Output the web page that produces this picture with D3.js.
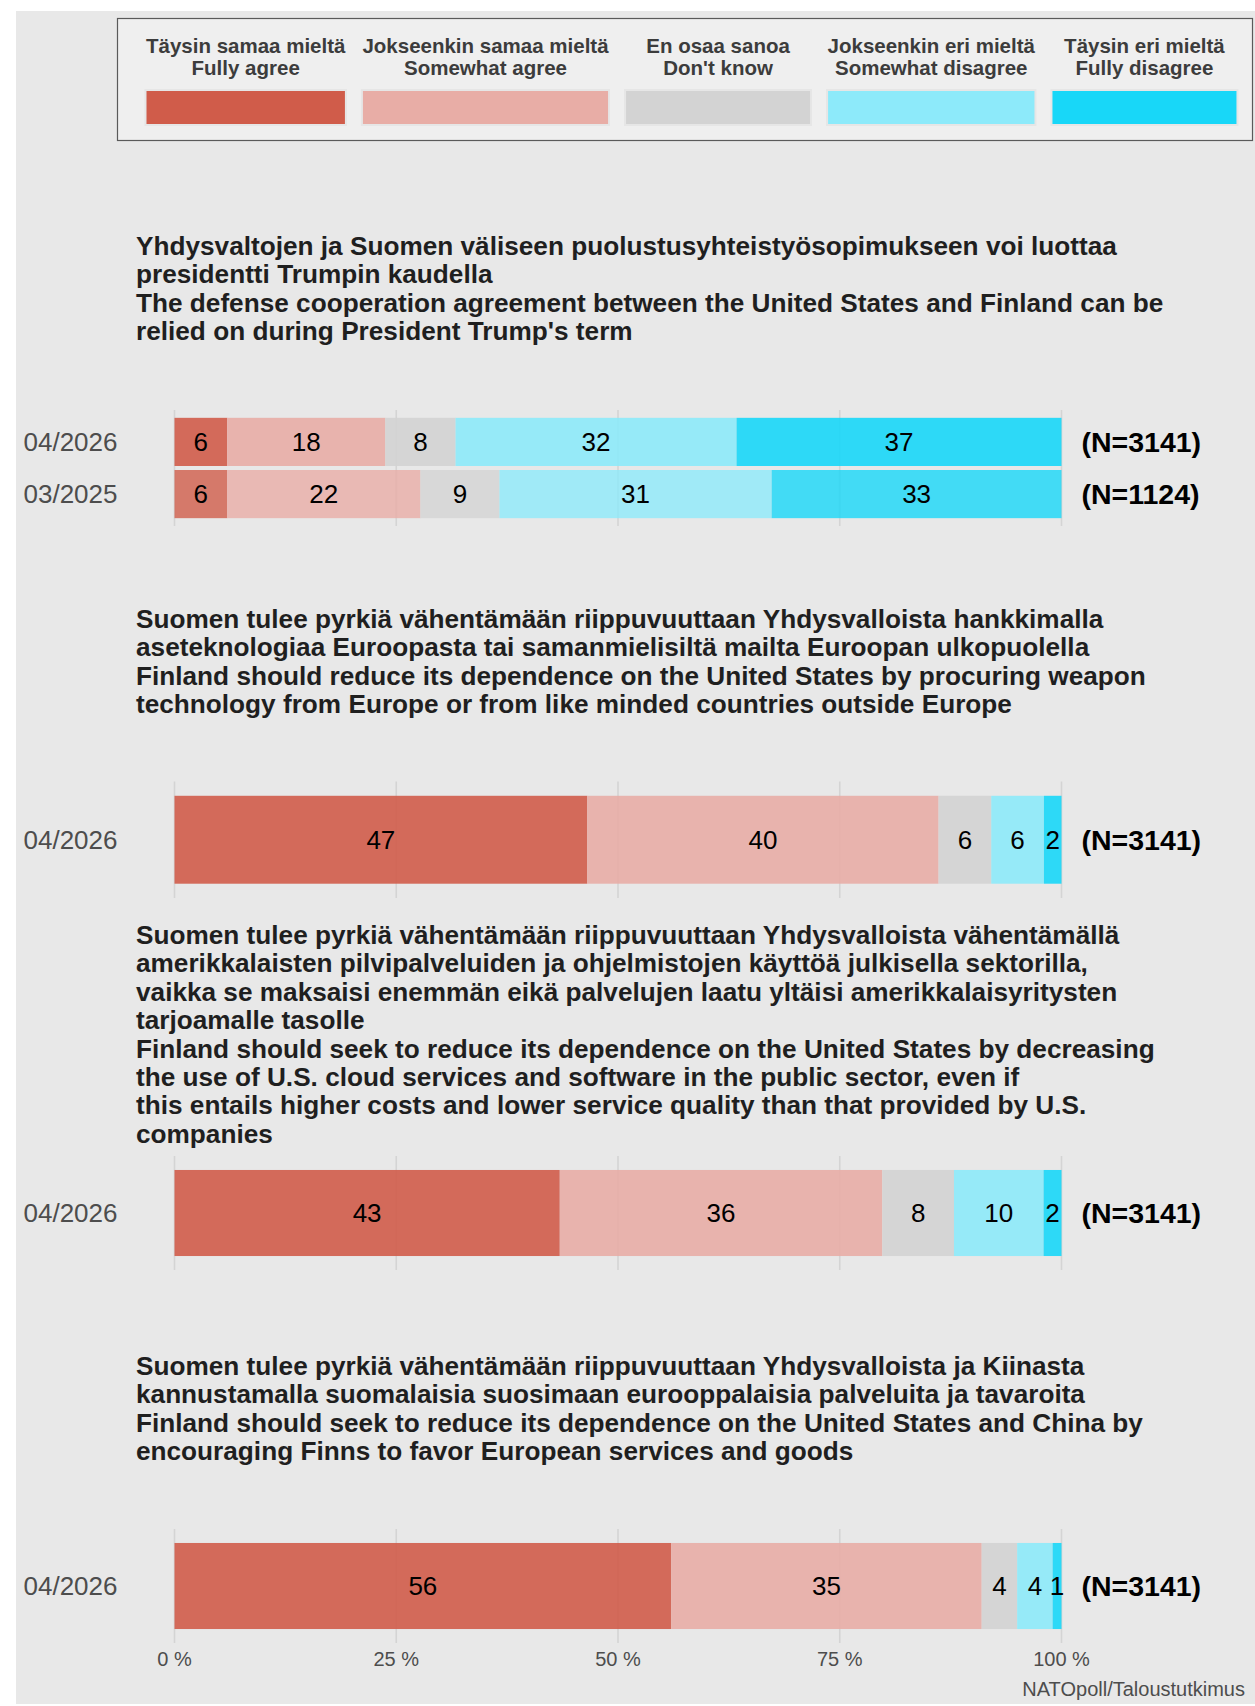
<!DOCTYPE html>
<html lang="fi">
<head>
  <meta charset="UTF-8">
  <title>NATOpoll – USA-riippuvuus</title>
  <style>
    body { margin: 0; background: #fff; }
    svg text { font-family: "Liberation Sans", Arial, Helvetica, sans-serif; }
  </style>
</head>
<body>
  <div id="chart"></div>
  <script src="https://d3js.org/d3.v7.min.js"></script>
  <script>
    // vastausvaihtoehdot / response options
    var responseFi = ['Täysin samaa mieltä', 'Jokseenkin samaa mieltä', 'En osaa sanoa', 'Jokseenkin eri mieltä', 'Täysin eri mieltä'];
    var responseEn = ['Fully agree', 'Somewhat agree', "Don't know", 'Somewhat disagree', 'Fully disagree'];
    var colours = ['#d05c4a', '#e8ada6', '#d3d3d3', '#8deafa', '#18d7f8'];

    // kysymykset
    var titles = [
      ['Yhdysvaltojen ja Suomen väliseen puolustusyhteistyösopimukseen voi luottaa',
       'presidentti Trumpin kaudella',
       'The defense cooperation agreement between the United States and Finland can be',
       "relied on during President Trump's term"],
      ['Suomen tulee pyrkiä vähentämään riippuvuuttaan Yhdysvalloista hankkimalla',
       'aseteknologiaa Euroopasta tai samanmielisiltä mailta Euroopan ulkopuolella',
       'Finland should reduce its dependence on the United States by procuring weapon',
       'technology from Europe or from like minded countries outside Europe'],
      ['Suomen tulee pyrkiä vähentämään riippuvuuttaan Yhdysvalloista vähentämällä',
       'amerikkalaisten pilvipalveluiden ja ohjelmistojen käyttöä julkisella sektorilla,',
       'vaikka se maksaisi enemmän eikä palvelujen laatu yltäisi amerikkalaisyritysten',
       'tarjoamalle tasolle',
       'Finland should seek to reduce its dependence on the United States by decreasing',
       'the use of U.S. cloud services and software in the public sector, even if',
       'this entails higher costs and lower service quality than that provided by U.S.',
       'companies'],
      ['Suomen tulee pyrkiä vähentämään riippuvuuttaan Yhdysvalloista ja Kiinasta',
       'kannustamalla suomalaisia suosimaan eurooppalaisia palveluita ja tavaroita',
       'Finland should seek to reduce its dependence on the United States and China by',
       'encouraging Finns to favor European services and goods']
    ];

    // tulokset (%)
    var q1Periods = ['04/2026', '03/2025'];
    var q1Values = [[6, 18, 8, 32, 37], [6, 22, 9, 31, 33]];
    var q1N = [3141, 1124];
    var q2Values = [47, 40, 6, 6, 2];
    var q3Values = [43, 36, 8, 10, 2];
    var q4Values = [56, 35, 4, 4, 1];
    var latestPeriod = '04/2026';
    var latestN = 3141;
    var ticks = [0, 0.25, 0.5, 0.75, 1];

    var width = 1255, height = 1706;

    var svg = d3.select('#chart').append('svg')
      .attr('width', width)
      .attr('height', height);

    svg.append('rect')
      .attr('x', 16).attr('y', 11)
      .attr('width', width - 16).attr('height', 1693)
      .attr('fill', '#e8e8e8');

    // legenda
    var legend = svg.append('g');
    legend.append('rect')
      .attr('x', 117.5).attr('y', 18.5)
      .attr('width', 1135).attr('height', 122)
      .attr('fill', '#efefef')
      .attr('stroke', '#5a5a5a')
      .attr('stroke-width', 1.2);

    var measure = svg.append('text')
      .attr('font-size', 20.5).attr('font-weight', 'bold');
    var keyX = 145.5;
    responseFi.forEach(function(fi, i) {
      measure.text(fi);
      var w1 = measure.node().getComputedTextLength();
      measure.text(responseEn[i]);
      var w2 = measure.node().getComputedTextLength();
      var w = Math.max(186, Math.max(w1, w2) + 1);
      legend.append('rect')
        .attr('x', keyX).attr('y', 90)
        .attr('width', w).attr('height', 35)
        .attr('fill', colours[i])
        .attr('stroke', '#e6e6e6')
        .attr('stroke-width', 2);
      var t = legend.append('text')
        .attr('text-anchor', 'middle')
        .attr('font-size', 20.5)
        .attr('font-weight', 'bold')
        .attr('fill', '#3c3c3c');
      t.append('tspan').attr('x', keyX + w / 2).attr('y', 53).text(fi);
      t.append('tspan').attr('x', keyX + w / 2).attr('y', 75).text(responseEn[i]);
      keyX += w + 16;
    });
    measure.remove();

    var x = d3.scaleLinear().domain([0, 1]).range([174.5, 1061.5]);
    var stack = d3.stack().keys(d3.range(responseFi.length)).offset(d3.stackOffsetExpand);

    var panels = [
      { title: titles[0], titleY: 255, top: 410, bottom: 526,
        rows: q1Periods.map(function(p, j) { return { period: p, values: q1Values[j], n: q1N[j], alpha: j === 0 ? 0.9 : 0.8 }; }) },
      { title: titles[1], titleY: 628, top: 781.5, bottom: 898,
        rows: [{ period: latestPeriod, values: q2Values, n: latestN, alpha: 0.9 }] },
      { title: titles[2], titleY: 944, top: 1156, bottom: 1270,
        rows: [{ period: latestPeriod, values: q3Values, n: latestN, alpha: 0.9 }] },
      { title: titles[3], titleY: 1375, top: 1529, bottom: 1643,
        rows: [{ period: latestPeriod, values: q4Values, n: latestN, alpha: 0.9 }] }
    ];

    panels.forEach(function(panel, pi) {
      var g = svg.append('g');

      g.append('text')
        .attr('font-size', 26.2)
        .attr('font-weight', 'bold')
        .attr('fill', '#1f1f1f')
        .selectAll('tspan')
        .data(panel.title)
        .enter().append('tspan')
        .attr('x', 136)
        .attr('y', function(d, i) { return panel.titleY + i * 28.4; })
        .text(function(d) { return d; });

      var y = d3.scaleBand()
        .domain(panel.rows.map(function(r) { return r.period; }))
        .range([panel.top, panel.bottom])
        .paddingInner(0.077)
        .paddingOuter(0.15);

      g.append('g').selectAll('line')
        .data(ticks)
        .enter().append('line')
        .attr('x1', function(d) { return x(d); })
        .attr('x2', function(d) { return x(d); })
        .attr('y1', panel.top)
        .attr('y2', panel.bottom)
        .attr('stroke', '#d4d4d4')
        .attr('stroke-width', 1.6);

      var series = stack(panel.rows.map(function(r) { return r.values; }));

      series.forEach(function(s, k) {
        s.forEach(function(seg, j) {
          var row = panel.rows[j];
          g.append('rect')
            .attr('x', x(seg[0]))
            .attr('y', y(row.period))
            .attr('width', x(seg[1]) - x(seg[0]))
            .attr('height', y.bandwidth())
            .attr('fill', colours[k])
            .attr('fill-opacity', row.alpha);
          g.append('text')
            .attr('x', (x(seg[0]) + x(seg[1])) / 2)
            .attr('y', y(row.period) + y.bandwidth() / 2)
            .attr('dy', '0.35em')
            .attr('text-anchor', 'middle')
            .attr('font-size', 26)
            .attr('fill', '#000')
            .text(row.values[k]);
        });
      });

      panel.rows.forEach(function(row) {
        var cy = y(row.period) + y.bandwidth() / 2;
        g.append('text')
          .attr('x', 117.5).attr('y', cy).attr('dy', '0.35em')
          .attr('text-anchor', 'end')
          .attr('font-size', 26)
          .attr('fill', '#4d4d4d')
          .text(row.period);
        g.append('text')
          .attr('x', 1081.5).attr('y', cy).attr('dy', '0.35em')
          .attr('font-size', 28.5)
          .attr('font-weight', 'bold')
          .attr('fill', '#000')
          .text('(N=' + row.n + ')');
      });

      if (pi === panels.length - 1) {
        g.append('g').selectAll('text')
          .data(ticks)
          .enter().append('text')
          .attr('x', function(d) { return x(d); })
          .attr('y', panel.bottom + 23)
          .attr('text-anchor', 'middle')
          .attr('font-size', 20)
          .attr('fill', '#4d4d4d')
          .text(function(d) { return d3.format('d')(d * 100) + ' %'; });
      }
    });

    svg.append('text')
      .attr('x', 1245).attr('y', 1696)
      .attr('text-anchor', 'end')
      .attr('font-size', 20)
      .attr('fill', '#4d4d4d')
      .text('NATOpoll/Taloustutkimus');
  </script>
</body>
</html>
